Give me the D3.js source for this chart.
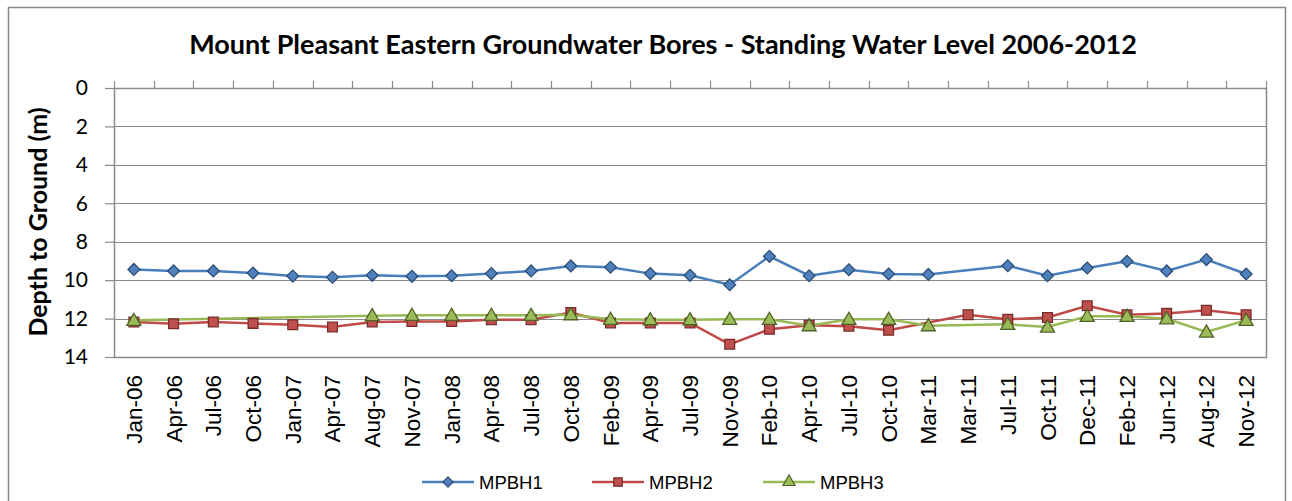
<!DOCTYPE html>
<html>
<head>
<meta charset="utf-8">
<script src="https://cdn.jsdelivr.net/npm/d3@7"></script>
<style>
  body { margin: 0; background: #fff; }
  svg { display: block; font-family: Lato, "Open Sans", sans-serif; }
</style>
</head>
<body>
<svg id="chart" width="1292" height="501"></svg>
<script>
const categories = ['Jan-06', 'Apr-06', 'Jul-06', 'Oct-06', 'Jan-07', 'Apr-07', 'Aug-07', 'Nov-07',
  'Jan-08', 'Apr-08', 'Jul-08', 'Oct-08', 'Feb-09', 'Apr-09', 'Jul-09', 'Nov-09', 'Feb-10', 'Apr-10',
  'Jul-10', 'Oct-10', 'Mar-11', 'Mar-11', 'Jul-11', 'Oct-11', 'Dec-11', 'Feb-12', 'Jun-12', 'Aug-12', 'Nov-12'];

const mpbh1 = [9.44, 9.52, 9.52, 9.63, 9.79, 9.85, 9.75, 9.80, 9.77, 9.66, 9.52, 9.26, 9.33, 9.66, 9.75,
  10.24, 8.76, 9.77, 9.46, 9.68, 9.70, null, 9.25, 9.77, 9.37, 9.02, 9.52, 8.93, 9.68];
const mpbh2 = [12.18, 12.27, 12.18, 12.25, 12.32, 12.44, 12.18, 12.15, 12.15, 12.06, 12.06, 11.68, 12.23,
  12.23, 12.23, 13.34, 12.56, 12.35, 12.40, 12.61, null, 11.80, 12.04, 11.94, 11.33, 11.80, 11.73, 11.57, 11.80];
const mpbh3 = [12.09, null, null, null, null, null, 11.85, 11.83, 11.83, 11.83, 11.83, 11.80, 12.04, 12.06,
  12.06, 12.04, 12.04, 12.37, 12.04, 12.04, 12.37, null, 12.30, 12.44, 11.88, 11.88, 12.01, 12.70, 12.09];

const yTicks = [0, 2, 4, 6, 8, 10, 12, 14];
const seriesNames = ['MPBH1', 'MPBH2', 'MPBH3'];

const series = [
  { name: seriesNames[0], values: mpbh1, line: '#4A7EBB', fill: '#4F81BD', stroke: '#2C4D75', symbol: d3.symbolSquare, rot: 45, size: 70 },
  { name: seriesNames[1], values: mpbh2, line: '#BE4B48', fill: '#C0504D', stroke: '#772C2A', symbol: d3.symbolSquare, rot: 0, size: 95 },
  { name: seriesNames[2], values: mpbh3, line: '#98B954', fill: '#9BBB59', stroke: '#4F6228', symbol: d3.symbolTriangle, rot: 0, size: 85 }
];

const margin = { top: 88, right: 26, bottom: 144, left: 114 };
const svg = d3.select('#chart');
const W = +svg.attr('width'), H = +svg.attr('height');
const width = W - margin.left - margin.right;
const height = H - margin.top - margin.bottom;

// outer chart border
svg.append('rect')
  .attr('x', 8.5).attr('y', 7.5).attr('width', 1277).attr('height', 510)
  .attr('fill', 'none').attr('stroke', '#888').attr('stroke-width', 1.5);

svg.append('text')
  .attr('x', 663).attr('y', 54)
  .attr('text-anchor', 'middle')
  .attr('font-weight', 'bold').attr('font-size', 27)
  .text('Mount Pleasant Eastern Groundwater Bores - Standing Water Level 2006-2012');

const g = svg.append('g').attr('transform', `translate(${margin.left}, ${margin.top})`);

const x = d3.scaleBand().domain(d3.range(categories.length)).range([0, width]);
const y = d3.scaleLinear().domain([0, 14]).range([0, height]);

// gridlines
g.append('g').selectAll('line').data(yTicks).join('line')
  .attr('x1', 0).attr('x2', width)
  .attr('y1', d => Math.round(y(d)) + 0.5).attr('y2', d => Math.round(y(d)) + 0.5)
  .attr('stroke', '#8a8a8a').attr('stroke-width', 1.2);

// plot frame
g.append('rect')
  .attr('x', 0.5).attr('y', 0.5).attr('width', width).attr('height', height)
  .attr('fill', 'none').attr('stroke', '#8a8a8a').attr('stroke-width', 1.5);

// y axis
g.append('g')
  .attr('class', 'axis axis--y')
  .call(d3.axisLeft(y).tickValues(yTicks).tickSize(9).tickPadding(17))
  .call(a => a.select('.domain').remove())
  .call(a => a.selectAll('line').attr('stroke', '#8a8a8a').attr('stroke-width', 1.2))
  .call(a => a.selectAll('text').attr('font-size', 21).attr('fill', '#000').attr('font-family', 'Lato, sans-serif'));

// category boundary ticks on the top edge
g.append('g').selectAll('line').data(d3.range(categories.length + 1)).join('line')
  .attr('x1', d => Math.round(d * x.step()) + 0.5).attr('x2', d => Math.round(d * x.step()) + 0.5)
  .attr('y1', -7).attr('y2', 0)
  .attr('stroke', '#8a8a8a').attr('stroke-width', 1.2);

// category labels below the plot
g.append('g').selectAll('text').data(categories).join('text')
  .attr('transform', (d, i) => `translate(${x(i) + x.bandwidth() / 2 + 8}, ${height + 18}) rotate(-90)`)
  .attr('text-anchor', 'end')
  .attr('font-size', 22.5)
  .attr('font-family', '"Liberation Sans", Arial, sans-serif')
  .text(d => d);

// y axis title
svg.append('text')
  .attr('transform', 'translate(47, 222) rotate(-90)')
  .attr('text-anchor', 'middle')
  .attr('font-weight', 'bold').attr('font-size', 25)
  .text('Depth to Ground (m)');

const cx = i => x(i) + x.bandwidth() / 2;

series.forEach(s => {
  const pts = s.values.map((v, i) => ({ i, v })).filter(p => p.v !== null);
  g.append('path')
    .datum(pts)
    .attr('fill', 'none')
    .attr('stroke', s.line)
    .attr('stroke-width', 2.5)
    .attr('d', d3.line().x(p => cx(p.i)).y(p => y(p.v)));
});

series.forEach(s => {
  const pts = s.values.map((v, i) => ({ i, v })).filter(p => p.v !== null);
  g.append('g').selectAll('path').data(pts).join('path')
    .attr('transform', p => `translate(${cx(p.i)}, ${y(p.v) + (s.symbol === d3.symbolTriangle ? 1 : 0)}) rotate(${s.rot})`)
    .attr('d', d3.symbol(s.symbol, s.size))
    .attr('fill', s.fill)
    .attr('stroke', s.stroke)
    .attr('stroke-width', 1.3);
});

// legend
const legendX = [422, 592, 763];
const legend = svg.append('g').attr('transform', 'translate(0, 482)');
series.forEach((s, k) => {
  const lg = legend.append('g').attr('transform', `translate(${legendX[k]}, 0)`);
  lg.append('line').attr('x1', 0).attr('x2', 52).attr('y1', 0).attr('y2', 0)
    .attr('stroke', s.line).attr('stroke-width', 2.5);
  lg.append('path').attr('transform', `translate(26, 0) rotate(${s.rot})`)
    .attr('d', d3.symbol(s.symbol, s.size * 0.75))
    .attr('fill', s.fill).attr('stroke', s.stroke).attr('stroke-width', 1.2);
  lg.append('text').attr('x', 57).attr('y', 6.5)
    .attr('font-size', 18.5)
    .attr('font-family', '"Liberation Sans", Arial, sans-serif')
    .text(s.name);
});
</script>
</body>
</html>
